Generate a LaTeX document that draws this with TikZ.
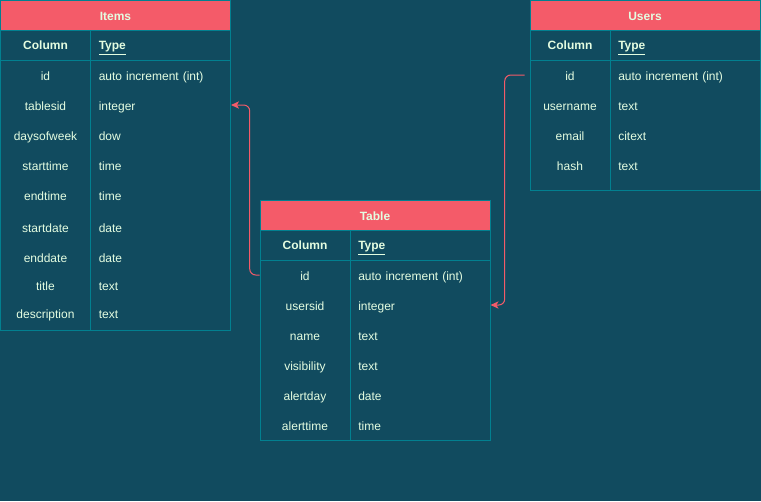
\documentclass[tikz,border=0pt]{standalone}
\usepackage{fontspec}
\setmainfont{Liberation Sans}
\usetikzlibrary{arrows.meta}
\definecolor{bg}{HTML}{114B5F}
\definecolor{hdr}{HTML}{F45B69}
\definecolor{edge}{HTML}{028090}
\definecolor{txt}{HTML}{E4FDE1}
\begin{document}
\begin{tikzpicture}[x=0.75pt,y=-0.75pt,
  frame/.style={draw=edge, line width=0.75pt},
  titlebox/.style={frame, fill=hdr, minimum width=172.5pt, minimum height=22.5pt, inner sep=0pt, text height=7.8pt, text depth=0pt, text=txt, font=\fontsize{9}{11}\selectfont\bfseries},
  bodybox/.style={frame, minimum width=172.5pt, inner sep=0pt},
  lcell/.style={minimum width=67.5pt, minimum height=22.5pt, inner sep=0pt, text height=9.4pt, text depth=1.9pt, text=txt, font=\fontsize{9}{11}\selectfont},
  rcell/.style={anchor=west, text width=93pt, inner xsep=6pt, inner ysep=0pt, minimum height=22.5pt, text height=9.4pt, text depth=1.9pt, align=left, text=txt, font=\fontsize{9}{11}\selectfont},
  lhead/.style={lcell, text height=8.8pt, font=\fontsize{9}{11}\selectfont\bfseries},
  rhead/.style={rcell, text height=8.8pt, font=\fontsize{9}{11}\selectfont\bfseries},
  conn/.style={draw=hdr, line width=0.75pt, rounded corners=4.5pt, -{Stealth[length=6pt,width=5.5pt,inset=1.6pt]}}
]
\useasboundingbox (0,0) rectangle (761,501);
\fill[bg] (0,0) rectangle (761,501);

% ---------- Items ----------
\node[bodybox, minimum height=225pt] (items-body) at (115.5,180) {};
\node[titlebox] (items-title) at (115.5,15) {Items};
\draw[frame] (0.5,60) -- (230.5,60);
\draw[frame] (90.5,30) -- (90.5,330);
\node[lhead] (items-hc) at (45.5,45) {Column};
\node[rhead] (items-ht) at (90.5,45) {\underline{Type}};
\foreach \y/\c/\t [count=\i] in {75/id/auto increment (int),105/tablesid/integer,135/daysofweek/dow,165/starttime/time,195/endtime/time,227/startdate/date,257/enddate/date,285/title/text,313/description/text}{
  \node[lcell] (items-c\i) at (45.5,\y) {\c};
  \node[rcell] (items-t\i) at (90.5,\y) {\t};
}

% ---------- Users ----------
\node[bodybox, minimum height=120pt] (users-body) at (645,110) {};
\node[titlebox] (users-title) at (645,15) {Users};
\draw[frame] (530,60) -- (760,60);
\draw[frame] (610,30) -- (610,190);
\node[lhead] (users-hc) at (570,45) {Column};
\node[rhead] (users-ht) at (610,45) {\underline{Type}};
\foreach \y/\c/\t [count=\i] in {75/id/auto increment (int),105/username/text,135/email/citext,165/hash/text}{
  \node[lcell] (users-c\i) at (570,\y) {\c};
  \node[rcell] (users-t\i) at (610,\y) {\t};
}

% ---------- Table ----------
\node[bodybox, minimum height=157.5pt] (table-body) at (375,335) {};
\node[titlebox] (table-title) at (375,215) {Table};
\draw[frame] (260,260) -- (490,260);
\draw[frame] (350,230) -- (350,440);
\node[lhead] (table-hc) at (305,245) {Column};
\node[rhead] (table-ht) at (350,245) {\underline{Type}};
\foreach \y/\c/\t [count=\i] in {275/id/auto increment (int),305/usersid/integer,335/name/text,365/visibility/text,395/alertday/date,425/alerttime/time}{
  \node[lcell] (table-c\i) at (305,\y) {\c};
  \node[rcell] (table-t\i) at (350,\y) {\t};
}

% ---------- Connectors ----------
\draw[conn] (table-c1.west) -- ++(-10,0) |- (items-t2.east);
\draw[conn] (users-c1.west) -- ++(-20,0) |- (table-t2.east);
\end{tikzpicture}
\end{document}
